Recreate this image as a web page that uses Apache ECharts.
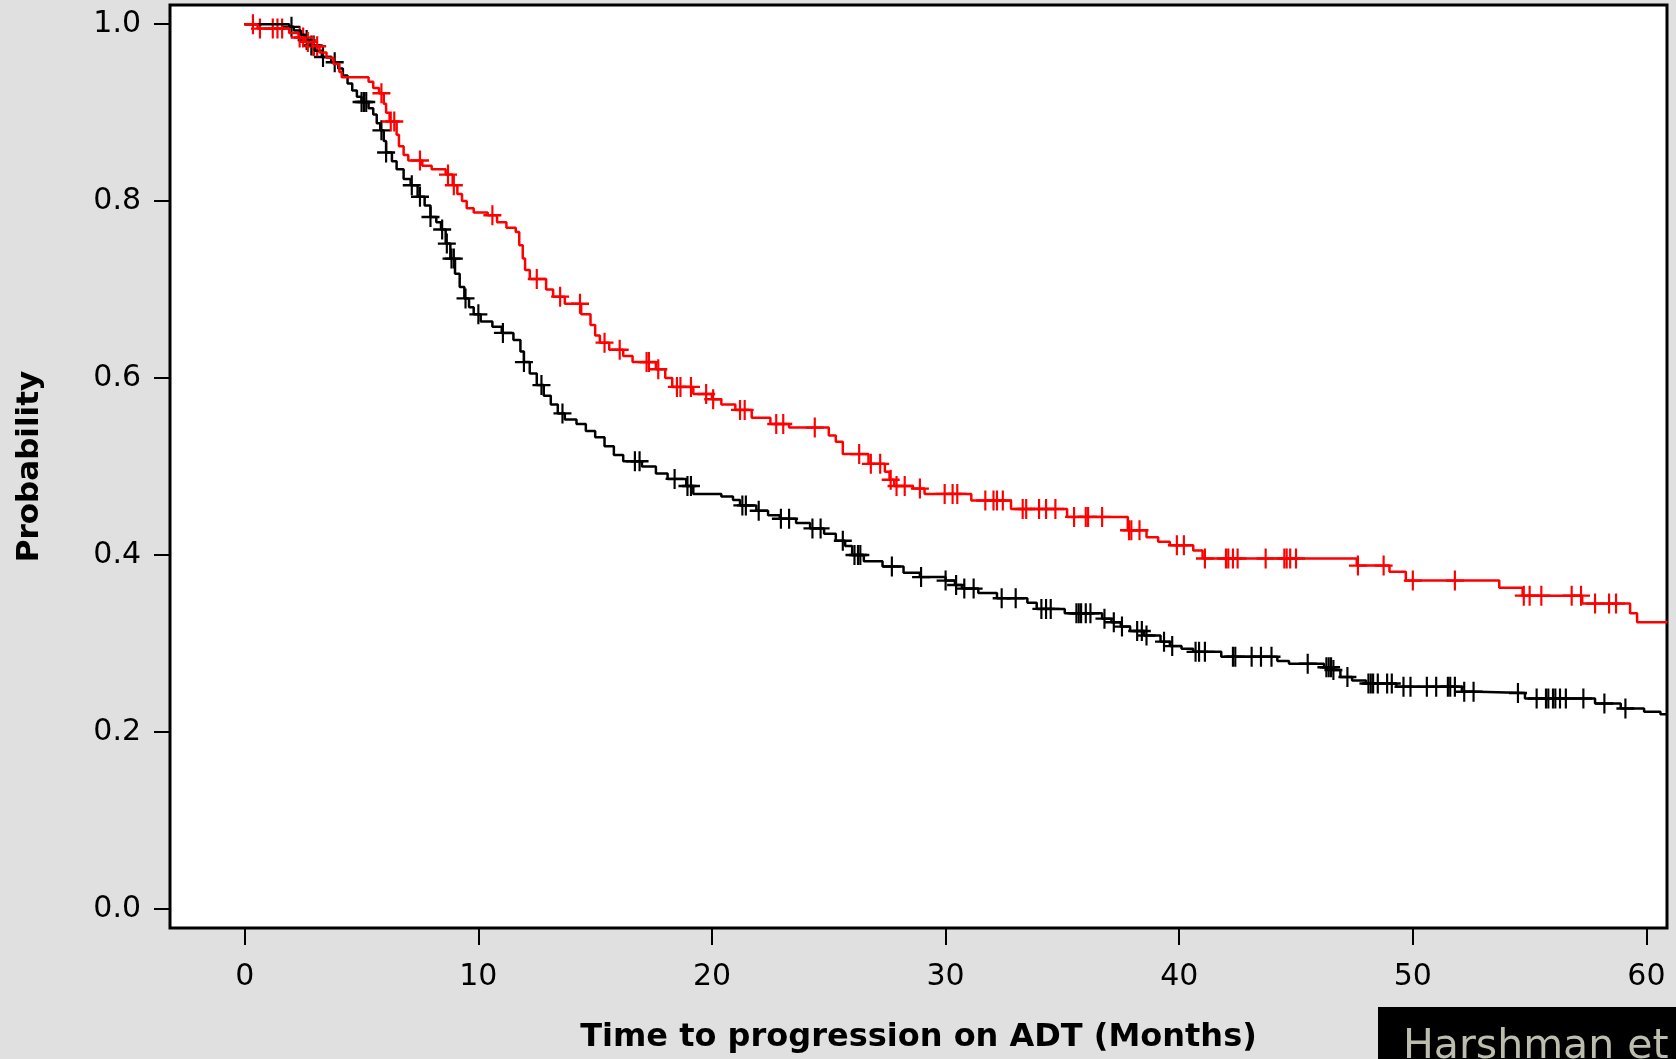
<!DOCTYPE html>
<html>
<head>
<meta charset="utf-8">
<script src="https://cdn.jsdelivr.net/npm/echarts@6/dist/echarts.min.js"></script>
<style>
  html, body { margin: 0; padding: 0; background: #e0e0e0; }
  #chart { width: 1676px; height: 1059px; }
</style>
</head>
<body>
<div id="chart"></div>
<script>
const xTicks = [0, 10, 20, 30, 40, 50, 60];
const yTicks = [0, 0.2, 0.4, 0.6, 0.8, 1.0];

// Kaplan-Meier steps: [month, survival after the drop]
const redSteps = [
  [0, 1.0], [0.55, 0.995], [1.9, 0.99], [2.3, 0.985], [2.6, 0.98], [2.9, 0.975],
  [3.2, 0.968], [3.5, 0.962], [3.8, 0.955], [4.05, 0.946], [4.15, 0.94], [5.3, 0.935],
  [5.5, 0.928], [5.75, 0.922], [5.95, 0.91], [6.05, 0.9], [6.2, 0.89], [6.5, 0.875],
  [6.6, 0.862], [6.8, 0.852], [7.0, 0.846], [7.6, 0.84], [8.0, 0.836], [8.6, 0.83],
  [8.9, 0.818], [9.1, 0.808], [9.3, 0.8], [9.5, 0.792], [9.8, 0.787], [10.4, 0.784],
  [10.8, 0.776], [11.2, 0.77], [11.6, 0.765], [11.75, 0.75], [11.9, 0.735], [12.0, 0.722],
  [12.2, 0.712], [12.9, 0.7], [13.2, 0.692], [13.7, 0.684], [14.4, 0.672], [14.8, 0.66],
  [15.0, 0.648], [15.2, 0.64], [15.6, 0.632], [16.2, 0.625], [16.6, 0.618], [17.6, 0.61],
  [18.0, 0.6], [18.3, 0.59], [19.2, 0.582], [20.0, 0.576], [20.4, 0.57], [21.0, 0.564],
  [21.7, 0.555], [22.5, 0.548], [23.3, 0.544], [25.0, 0.535], [25.3, 0.528], [25.6, 0.514],
  [26.7, 0.503], [27.4, 0.494], [27.6, 0.485], [27.8, 0.478], [28.6, 0.475], [29.1, 0.469],
  [31.1, 0.4615], [32.8, 0.452], [35.2, 0.443], [37.8, 0.428], [38.6, 0.42], [39.1, 0.415],
  [39.6, 0.411], [40.6, 0.405], [41.0, 0.396], [47.6, 0.388], [49.0, 0.381], [49.7, 0.371],
  [53.7, 0.363], [54.7, 0.354], [57.25, 0.345], [59.3, 0.334], [59.6, 0.324], [60.9, 0.324]
];
const blackSteps = [
  [0, 1.0], [1.9, 0.997], [2.1, 0.993], [2.4, 0.988], [2.6, 0.982], [2.8, 0.976],
  [3.0, 0.97], [3.3, 0.963], [3.7, 0.957], [4.0, 0.95], [4.2, 0.942], [4.4, 0.933],
  [4.6, 0.925], [4.8, 0.918], [5.0, 0.912], [5.3, 0.905], [5.5, 0.898], [5.65, 0.888],
  [5.8, 0.88], [5.95, 0.868], [6.05, 0.855], [6.3, 0.845], [6.5, 0.836], [6.8, 0.825],
  [7.1, 0.818], [7.4, 0.805], [7.7, 0.795], [7.95, 0.782], [8.2, 0.776], [8.4, 0.768],
  [8.6, 0.752], [8.8, 0.735], [9.0, 0.718], [9.2, 0.703], [9.4, 0.69], [9.6, 0.68],
  [9.8, 0.672], [10.1, 0.664], [10.6, 0.658], [11.0, 0.651], [11.5, 0.643], [11.8, 0.63],
  [11.95, 0.618], [12.2, 0.605], [12.5, 0.592], [12.8, 0.58], [13.1, 0.57], [13.4, 0.56],
  [13.7, 0.553], [14.2, 0.548], [14.6, 0.54], [15.0, 0.533], [15.4, 0.523], [15.8, 0.513],
  [16.2, 0.506], [17.0, 0.5], [17.6, 0.492], [18.1, 0.486], [18.9, 0.478], [19.2, 0.469],
  [20.4, 0.466], [20.9, 0.462], [21.2, 0.456], [21.9, 0.45], [22.4, 0.445], [22.9, 0.441],
  [23.6, 0.436], [24.2, 0.43], [24.8, 0.424], [25.3, 0.416], [25.7, 0.41], [26.0, 0.4],
  [26.5, 0.393], [27.3, 0.387], [28.2, 0.38], [28.9, 0.375], [30.0, 0.371], [30.4, 0.366],
  [30.7, 0.362], [31.4, 0.357], [32.2, 0.351], [33.5, 0.346], [33.9, 0.339], [35.1, 0.334],
  [36.7, 0.328], [37.1, 0.324], [37.5, 0.319], [37.9, 0.314], [38.5, 0.309], [39.2, 0.302],
  [39.6, 0.297], [40.1, 0.294], [40.6, 0.2905], [41.8, 0.285], [44.2, 0.28], [44.7, 0.277],
  [46.2, 0.273], [46.6, 0.27], [46.9, 0.262], [47.4, 0.258], [48.0, 0.2547], [49.3, 0.251],
  [52.1, 0.2453], [52.8, 0.244], [54.8, 0.2378], [57.8, 0.232], [58.9, 0.2265], [59.9, 0.2228],
  [60.6, 0.22], [60.9, 0.22]
];

// censoring times (months)
const redCensored = [
  0.35, 0.65, 1.2, 1.4, 1.6, 2.35, 2.5, 2.7, 2.95, 3.1, 5.85, 6.25, 6.4, 7.5, 8.7, 8.95,
  10.6, 12.5, 13.5, 14.35, 15.4, 16.05, 17.2, 17.3, 17.7, 18.5, 18.65, 19.1, 19.75, 20.05,
  21.2, 21.4, 22.75, 23.05, 24.4, 26.3, 26.8, 27.2, 27.65, 27.9, 28.25, 28.9, 29.96, 30.3,
  30.5, 31.7, 32.05, 32.2, 32.45, 33.3, 33.45, 34.0, 34.3, 34.7, 35.5, 36.0, 36.1, 36.7,
  37.85, 37.95, 38.3, 39.9, 40.2, 41.1, 42.0, 42.1, 42.3, 42.5, 43.7, 44.5, 44.6, 44.75,
  45.0, 47.65, 48.75, 50.0, 51.8, 54.75, 55.0, 55.5, 56.8, 57.2, 57.8, 58.4, 58.7
];
const blackCensored = [
  2.0, 2.65, 2.85, 2.95, 3.35, 3.85, 5.0, 5.1, 5.2, 5.85, 6.05, 7.15, 7.5, 7.95, 8.45,
  8.65, 8.85, 8.95, 9.45, 10.0, 11.05, 11.95, 12.7, 13.6, 16.7, 16.9, 18.4, 18.95, 19.1,
  21.3, 21.45, 22.0, 22.95, 23.3, 24.3, 24.65, 25.6, 26.1, 26.25, 26.35, 27.7, 28.95,
  30.0, 30.45, 30.8, 31.2, 32.4, 33.0, 34.1, 34.3, 34.5, 35.6, 35.7, 35.8, 36.0, 36.2,
  36.8, 37.2, 37.55, 38.2, 38.4, 38.6, 39.35, 39.7, 40.7, 40.85, 41.1, 42.3, 42.4, 43.1,
  43.5, 43.95, 45.5, 46.3, 46.4, 46.5, 46.6, 47.2, 48.1, 48.2, 48.3, 48.5, 48.9, 49.1,
  49.6, 49.9, 50.6, 51.0, 51.5, 51.6, 51.8, 52.2, 52.6, 54.5, 55.3, 55.7, 55.8, 56.0,
  56.1, 56.3, 56.55, 57.3, 58.2, 59.1
];

const FONT = 'DejaVu Sans';
const PLUS = 'path://M8.8,0H11.2V8.8H20V11.2H11.2V20H8.8V11.2H0V8.8H8.8Z';

// survival level of a step curve at time t
function survAt(steps, t) {
  let s = steps[0][1];
  for (const [ti, si] of steps) {
    if (ti <= t) s = si; else break;
  }
  return s;
}

function censorMarks(steps, times) {
  return times.map(t => [t, survAt(steps, t)]);
}

const chart = echarts.init(document.getElementById('chart'));
const option = {
  backgroundColor: '#e0e0e0',
  animation: false,
  grid: {
    left: 170, top: 5, width: 1497, height: 925,
    show: true, backgroundColor: '#ffffff', borderColor: '#000', borderWidth: 3
  },
  xAxis: {
    type: 'value', min: -3.2, max: 60.88,
    axisLine: { show: false, onZero: false },
    splitLine: { show: false },
    axisTick: { show: true, customValues: xTicks, length: 17, lineStyle: { color: '#000', width: 2 } },
    axisLabel: { customValues: xTicks, margin: 34, color: '#000', fontFamily: FONT, fontSize: 30 },
    name: 'Time to progression on ADT (Months)',
    nameLocation: 'middle',
    nameGap: 94,
    nameTextStyle: { color: '#000', fontFamily: FONT, fontSize: 32, fontWeight: 'bold' }
  },
  yAxis: {
    type: 'value', min: -0.0217, max: 1.0217,
    axisLine: { show: false, onZero: false },
    splitLine: { show: false },
    axisTick: { show: true, customValues: yTicks, length: 16, lineStyle: { color: '#000', width: 2 } },
    axisLabel: {
      customValues: yTicks, margin: 29, color: '#000', fontFamily: FONT, fontSize: 30,
      formatter: v => v.toFixed(1)
    },
    name: 'Probability',
    nameLocation: 'middle',
    nameRotate: 90,
    nameGap: 125,
    nameTextStyle: { color: '#000', fontFamily: FONT, fontSize: 31, fontWeight: 'bold' }
  },
  series: [
    {
      name: 'black', type: 'line', step: 'end', showSymbol: false,
      data: blackSteps, lineStyle: { color: '#000', width: 2.5 }
    },
    {
      name: 'black censored', type: 'scatter', symbol: PLUS, symbolSize: [18, 20],
      data: censorMarks(blackSteps, blackCensored), itemStyle: { color: '#000', opacity: 1 }
    },
    {
      name: 'red', type: 'line', step: 'end', showSymbol: false,
      data: redSteps, lineStyle: { color: '#ff0000', width: 2.5 }
    },
    {
      name: 'red censored', type: 'scatter', symbol: PLUS, symbolSize: [18, 20],
      data: censorMarks(redSteps, redCensored), itemStyle: { color: '#ff0000', opacity: 1 }
    }
  ],
  graphic: [
    { type: 'rect', shape: { x: 1378, y: 1007, width: 298, height: 52 }, style: { fill: '#000' } },
    {
      type: 'text', x: 1403, y: 1027,
      style: { text: 'Harshman et', fontFamily: FONT, fontSize: 41, fill: '#bdbdae', verticalAlign: 'top' }
    }
  ]
};
chart.setOption(option);
</script>
</body>
</html>
